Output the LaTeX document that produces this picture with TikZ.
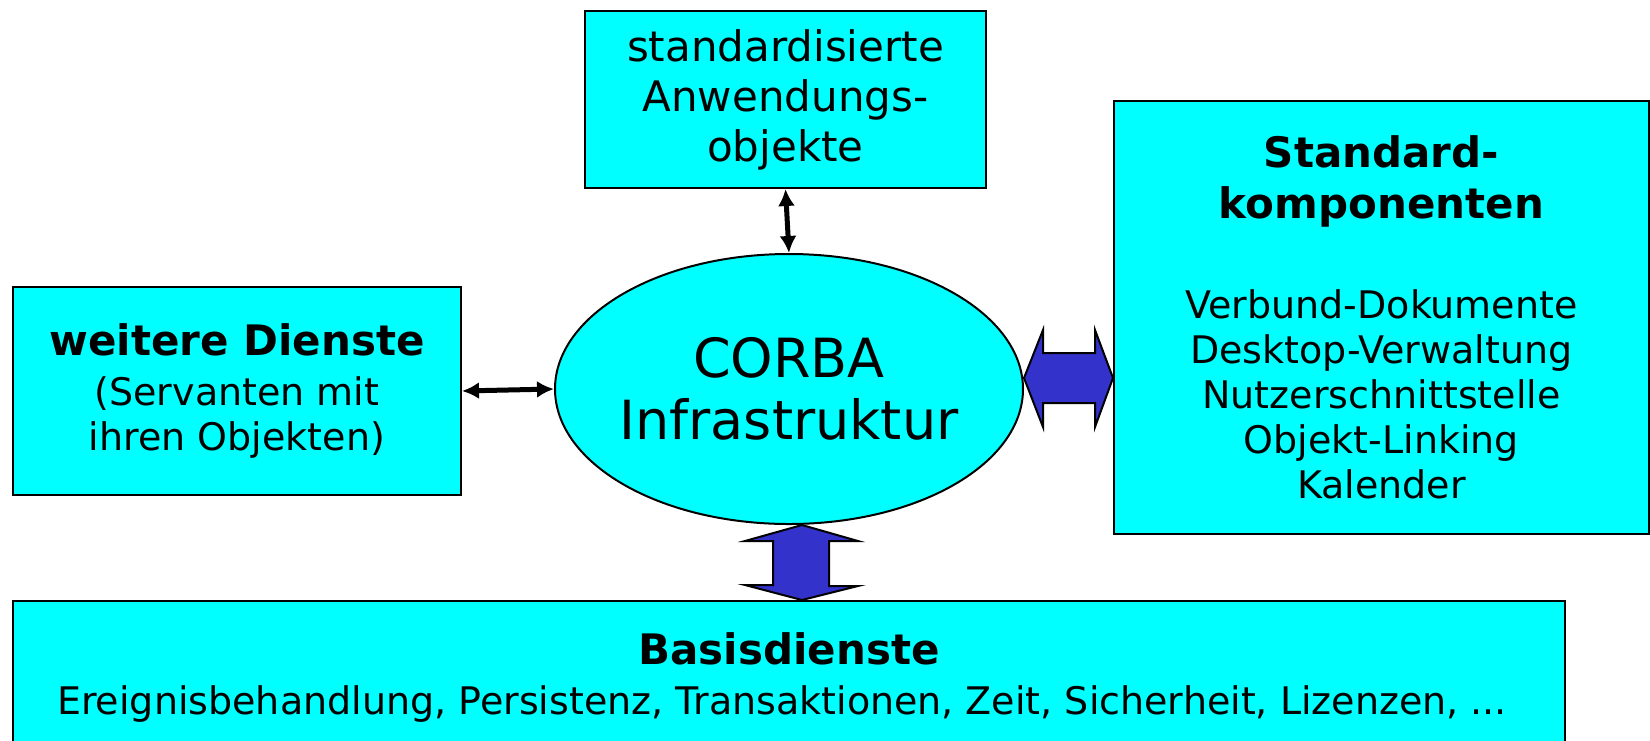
\documentclass[tikz,border=0pt]{standalone}
\usepackage{fontspec}
\setmainfont{DejaVu Sans}
\usetikzlibrary{positioning, arrows.meta, calc, shapes.geometric}
\definecolor{boxcyan}{RGB}{0,255,255}
\definecolor{pipeblue}{RGB}{51,51,204}
\newcommand{\boxhead}[1]{{\bfseries\fontsize{42}{45}\selectfont #1}}

\begin{document}
\begin{tikzpicture}[x=1pt, y=-1pt,
  box/.style={draw, line width=2pt, fill=boxcyan, align=center, inner sep=0pt},
  link/.style={{Latex[length=17pt,width=17pt]}-{Latex[length=17pt,width=17pt]}, line width=5pt},
  fat/.style={draw, line width=2pt, fill=pipeblue, line join=miter}]
  \useasboundingbox (0,0) rectangle (1650,740);
  \clip (0,0) rectangle (1650,740);

  % the ORB in the middle, services around it
  \node[box, ellipse, inner xsep=-10pt, minimum width=468pt, minimum height=270pt,
        font=\fontsize{54}{62}\selectfont] (corba) at (789,389) {CORBA\\Infrastruktur};
  \node[box, minimum width=401pt, minimum height=177pt,
        font=\fontsize{42}{50}\selectfont] (anw) at (785.5,99.5)
    {standardisierte\\Anwendungs-\\objekte};
  \node[box, minimum width=448pt, minimum height=208pt,
        font=\fontsize{38}{45}\selectfont] (weitere) at (237,391)
    {\boxhead{weitere Dienste}\\[5pt](Servanten mit\\ihren Objekten)};
  \node[box, minimum width=535pt, minimum height=433pt,
        font=\fontsize{38}{45}\selectfont] (komp) at (1381.5,317.5)
    {\boxhead{Standard-}\\[6pt]\boxhead{komponenten}\\[55pt]Verbund-Dokumente\\
     Desktop-Verwaltung\\Nutzerschnittstelle\\Objekt-Linking\\Kalender};
  \node[box, minimum width=1552pt, minimum height=152pt,
        font=\fontsize{38}{45}\selectfont] (basis) at (789,677)
    {\boxhead{Basisdienste}\\[5pt]Ereignisbehandlung, Persistenz, Transaktionen, Zeit, Sicherheit, Lizenzen, ...\hspace*{14pt}};

  % thin links
  \draw[link] (anw.south) -- (corba.north);
  \draw[link] (weitere.east) -- (corba.west);

  % fat links
  \coordinate (ra) at ([yshift=11pt]corba.east);
  \coordinate (rb) at (komp.west |- ra);
  \draw[fat] (ra) -- ++(19,-48) -- ++(0,23) -- ($(rb)+(-18,-25)$) -- ++(0,-23) -- (rb)
    -- ++(-18,49) -- ++(0,-24) -- ($(ra)+(19,25)$) -- ++(0,24) -- cycle;
  \coordinate (ba) at ([xshift=13pt]corba.south);
  \coordinate (bb) at (ba |- basis.north);
  \draw[fat] (ba) -- ++(-57,16) -- ++(28,0) -- ($(bb)+(-29,-15)$) -- ++(-28,0) -- (bb)
    -- ++(56,-14) -- ++(-29,0) -- ($(ba)+(27,16)$) -- ++(29,0) -- cycle;
\end{tikzpicture}
\end{document}
